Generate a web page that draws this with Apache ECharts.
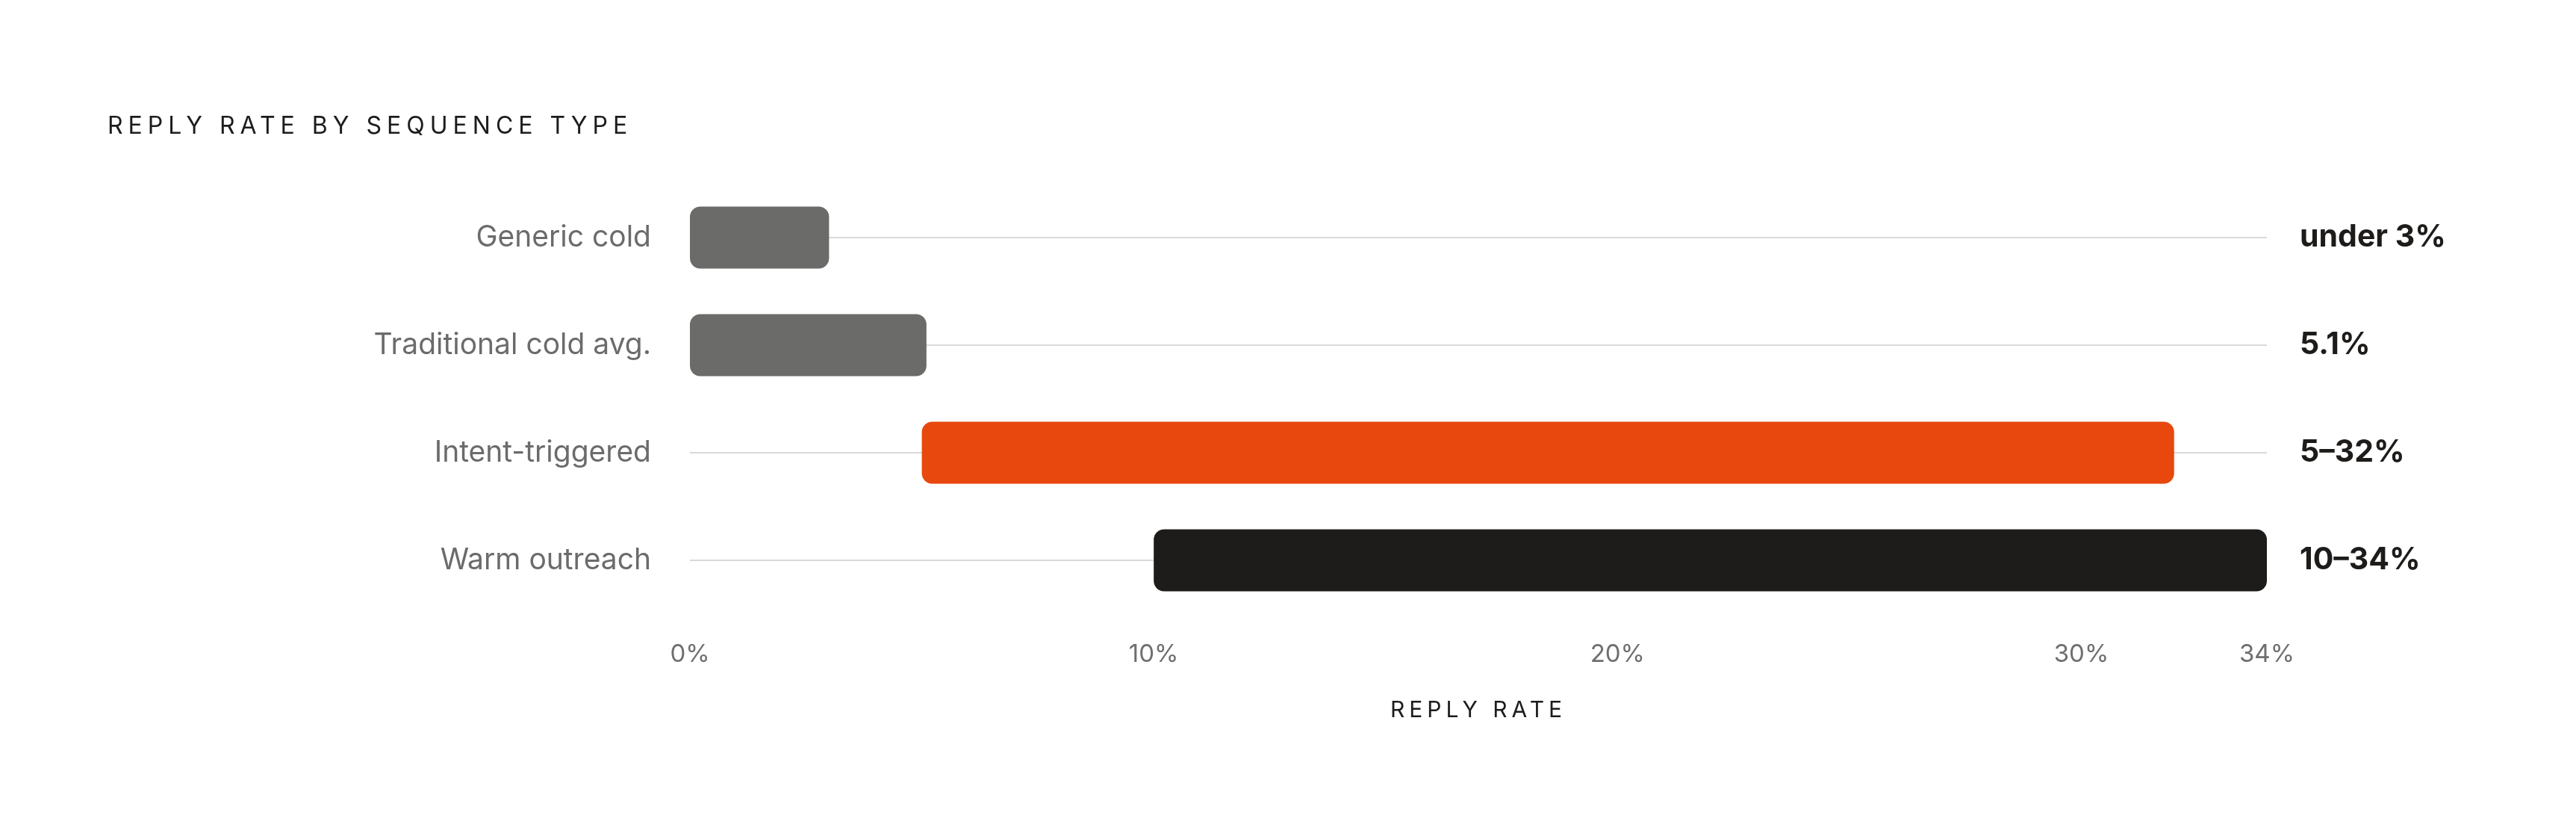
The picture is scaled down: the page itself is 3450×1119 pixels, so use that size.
<!DOCTYPE html>
<html>
<head>
<meta charset="utf-8">
<title>Reply rate by sequence type</title>
<script src="https://cdn.jsdelivr.net/npm/echarts@6/dist/echarts.min.js"></script>
<style>
  html, body { margin: 0; padding: 0; background: #ffffff; }
  #chart { width: 3450px; height: 1119px; }
</style>
</head>
<body>
<div id="chart"></div>
<script>
// chart data
const categories = ['Generic cold', 'Traditional cold avg.', 'Intent-triggered', 'Warm outreach'];
const rangeStart = [0, 0, 5, 10];
const rangeEnd = [3, 5.1, 32, 34];
const valueLabels = ['under 3%', '5.1%', '5\u201332%', '10\u201334%'];
const barColors = ['#6b6b69', '#6b6b69', '#e8470e', '#1e1c1a'];
const tickValues = [0, 10, 20, 30, 34];

const titleText = 'REPLY RATE BY SEQUENCE TYPE';
const axisTitle = 'REPLY RATE';

// letter-spaced caps for the two headings only
// (canvas has letterSpacing, echarts does not expose it; font is re-set so chrome applies the change)
const tracked = { [titleText]: '7px', [axisTitle]: '6px' };
const origFill = CanvasRenderingContext2D.prototype.fillText;
CanvasRenderingContext2D.prototype.fillText = function (t, x, y, w) {
  const hasLs = 'letterSpacing' in this;
  const f = this.font;
  if (hasLs) {
    this.letterSpacing = tracked[t] || '0px';
    this.font = f;
  }
  const r = w === undefined ? origFill.call(this, t, x, y) : origFill.call(this, t, x, y, w);
  if (hasLs && tracked[t]) {
    this.letterSpacing = '0px';
    this.font = f;
  }
  return r;
};

const FONT = 'Inter, "Noto Sans", sans-serif';
const chart = echarts.init(document.getElementById('chart'));

const option = {
  backgroundColor: '#ffffff',
  animation: false,
  title: {
    text: titleText,
    left: 139,
    top: 148,
    textStyle: { fontFamily: FONT, fontSize: 32, fontWeight: 400, color: '#1e1c1a' }
  },
  grid: { left: 924, right: 414, top: 318, bottom: 369 },
  xAxis: {
    type: 'value',
    min: 0,
    max: 34,
    interval: 10,
    name: axisTitle,
    nameLocation: 'middle',
    nameGap: 186,
    nameTextStyle: { fontFamily: FONT, fontSize: 30, color: '#1e1c1a' },
    axisLine: { show: false },
    axisTick: { show: false },
    splitLine: { show: false },
    axisLabel: {
      customValues: tickValues,
      margin: 110,
      fontFamily: FONT,
      fontSize: 33,
      color: '#6f6f6f',
      formatter: v => v + '%'
    }
  },
  yAxis: [
    {
      type: 'category',
      data: categories,
      inverse: true,
      boundaryGap: false,
      axisLine: { show: false },
      axisTick: { show: false },
      splitLine: { show: true, lineStyle: { color: '#d9d9d9', width: 2 } },
      axisLabel: { margin: 52, fontFamily: FONT, fontSize: 39, color: '#6b6b6b' }
    },
    {
      type: 'category',
      data: categories,
      inverse: true,
      boundaryGap: false,
      position: 'right',
      axisLine: { show: false },
      axisTick: { show: false },
      splitLine: { show: false },
      axisLabel: {
        margin: 44,
        align: 'left',
        fontFamily: FONT,
        fontSize: 41,
        fontWeight: 700,
        color: '#1e1c1a',
        formatter: (v, i) => valueLabels[i]
      }
    }
  ],
  series: [
    {
      type: 'bar',
      stack: 'range',
      silent: true,
      barWidth: 83,
      itemStyle: { color: 'transparent' },
      data: rangeStart
    },
    {
      type: 'bar',
      stack: 'range',
      barWidth: 83,
      data: rangeEnd.map((e, i) => ({
        value: +(e - rangeStart[i]).toFixed(2),
        itemStyle: { color: barColors[i], borderRadius: 14 }
      }))
    }
  ]
};

chart.setOption(option);
</script>
</body>
</html>
